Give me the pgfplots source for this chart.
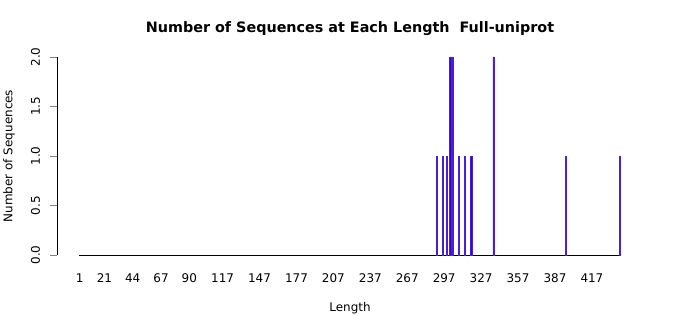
\documentclass[border=0pt]{standalone}
\usepackage{pgfplots}
\pgfplotsset{compat=1.18}
\usepackage{fontspec}
\setmainfont{DejaVu Sans}
\definecolor{barfill}{RGB}{60,0,200}
\definecolor{barline}{RGB}{72,30,225}
\definecolor{baseline}{RGB}{51,51,255}
\begin{document}
\begin{tikzpicture}[x=1bp,y=1bp]
\path[use as bounding box] (0,0) rectangle (700,315);
\begin{axis}[
  at={(57bp,52bp)}, anchor=south west,
  scale only axis, width=586bp, height=214bp,
  xmin=-17.5, xmax=458.5, ymin=-0.08, ymax=2.08,
  axis x line*=bottom, axis y line*=left,
  axis line style={draw=none},
  tick align=outside, major tick length=7bp,
  xtick={1,21,44,67,90,117,147,177,207,237,267,297,327,357,387,417},
  xtick style={draw=none},
  ytick={0,0.5,1,1.5,2},
  yticklabel style={rotate=90, anchor=base, yshift=10bp},
  xticklabel style={anchor=north, yshift=0bp},
  yticklabel={\pgfmathprintnumber[fixed,fixed zerofill,precision=1]{\tick}},
  ticklabel style={font=\fontsize{12}{14}\selectfont},
  /pgf/number format/assume math mode=true,
  clip=false,
]
\draw[black, line width=0.75bp] (axis cs:-17.5,0) -- (axis cs:-17.5,2);
\addplot[baseline, line width=1bp] coordinates {(0.4,0) (440.6,0)};
\addplot[ybar, bar width=1.1bp, fill=barfill, draw=barline, line width=0.6bp]
  coordinates {(291,1) (296,1) (299,1) (302,2) (304,2) (309,1) (314,1) (319,1) (337,2) (396,1) (440,1)};
\end{axis}
\node[font=\bfseries\fontsize{14.4}{16}\selectfont] at (350,286) {Number of Sequences at Each Length\ \ Full-uniprot};
\node[font=\fontsize{12}{14}\selectfont] at (350,7) {Length};
\node[font=\fontsize{12}{14}\selectfont, rotate=90] at (9,159) {Number of Sequences};
\end{tikzpicture}
\end{document}
